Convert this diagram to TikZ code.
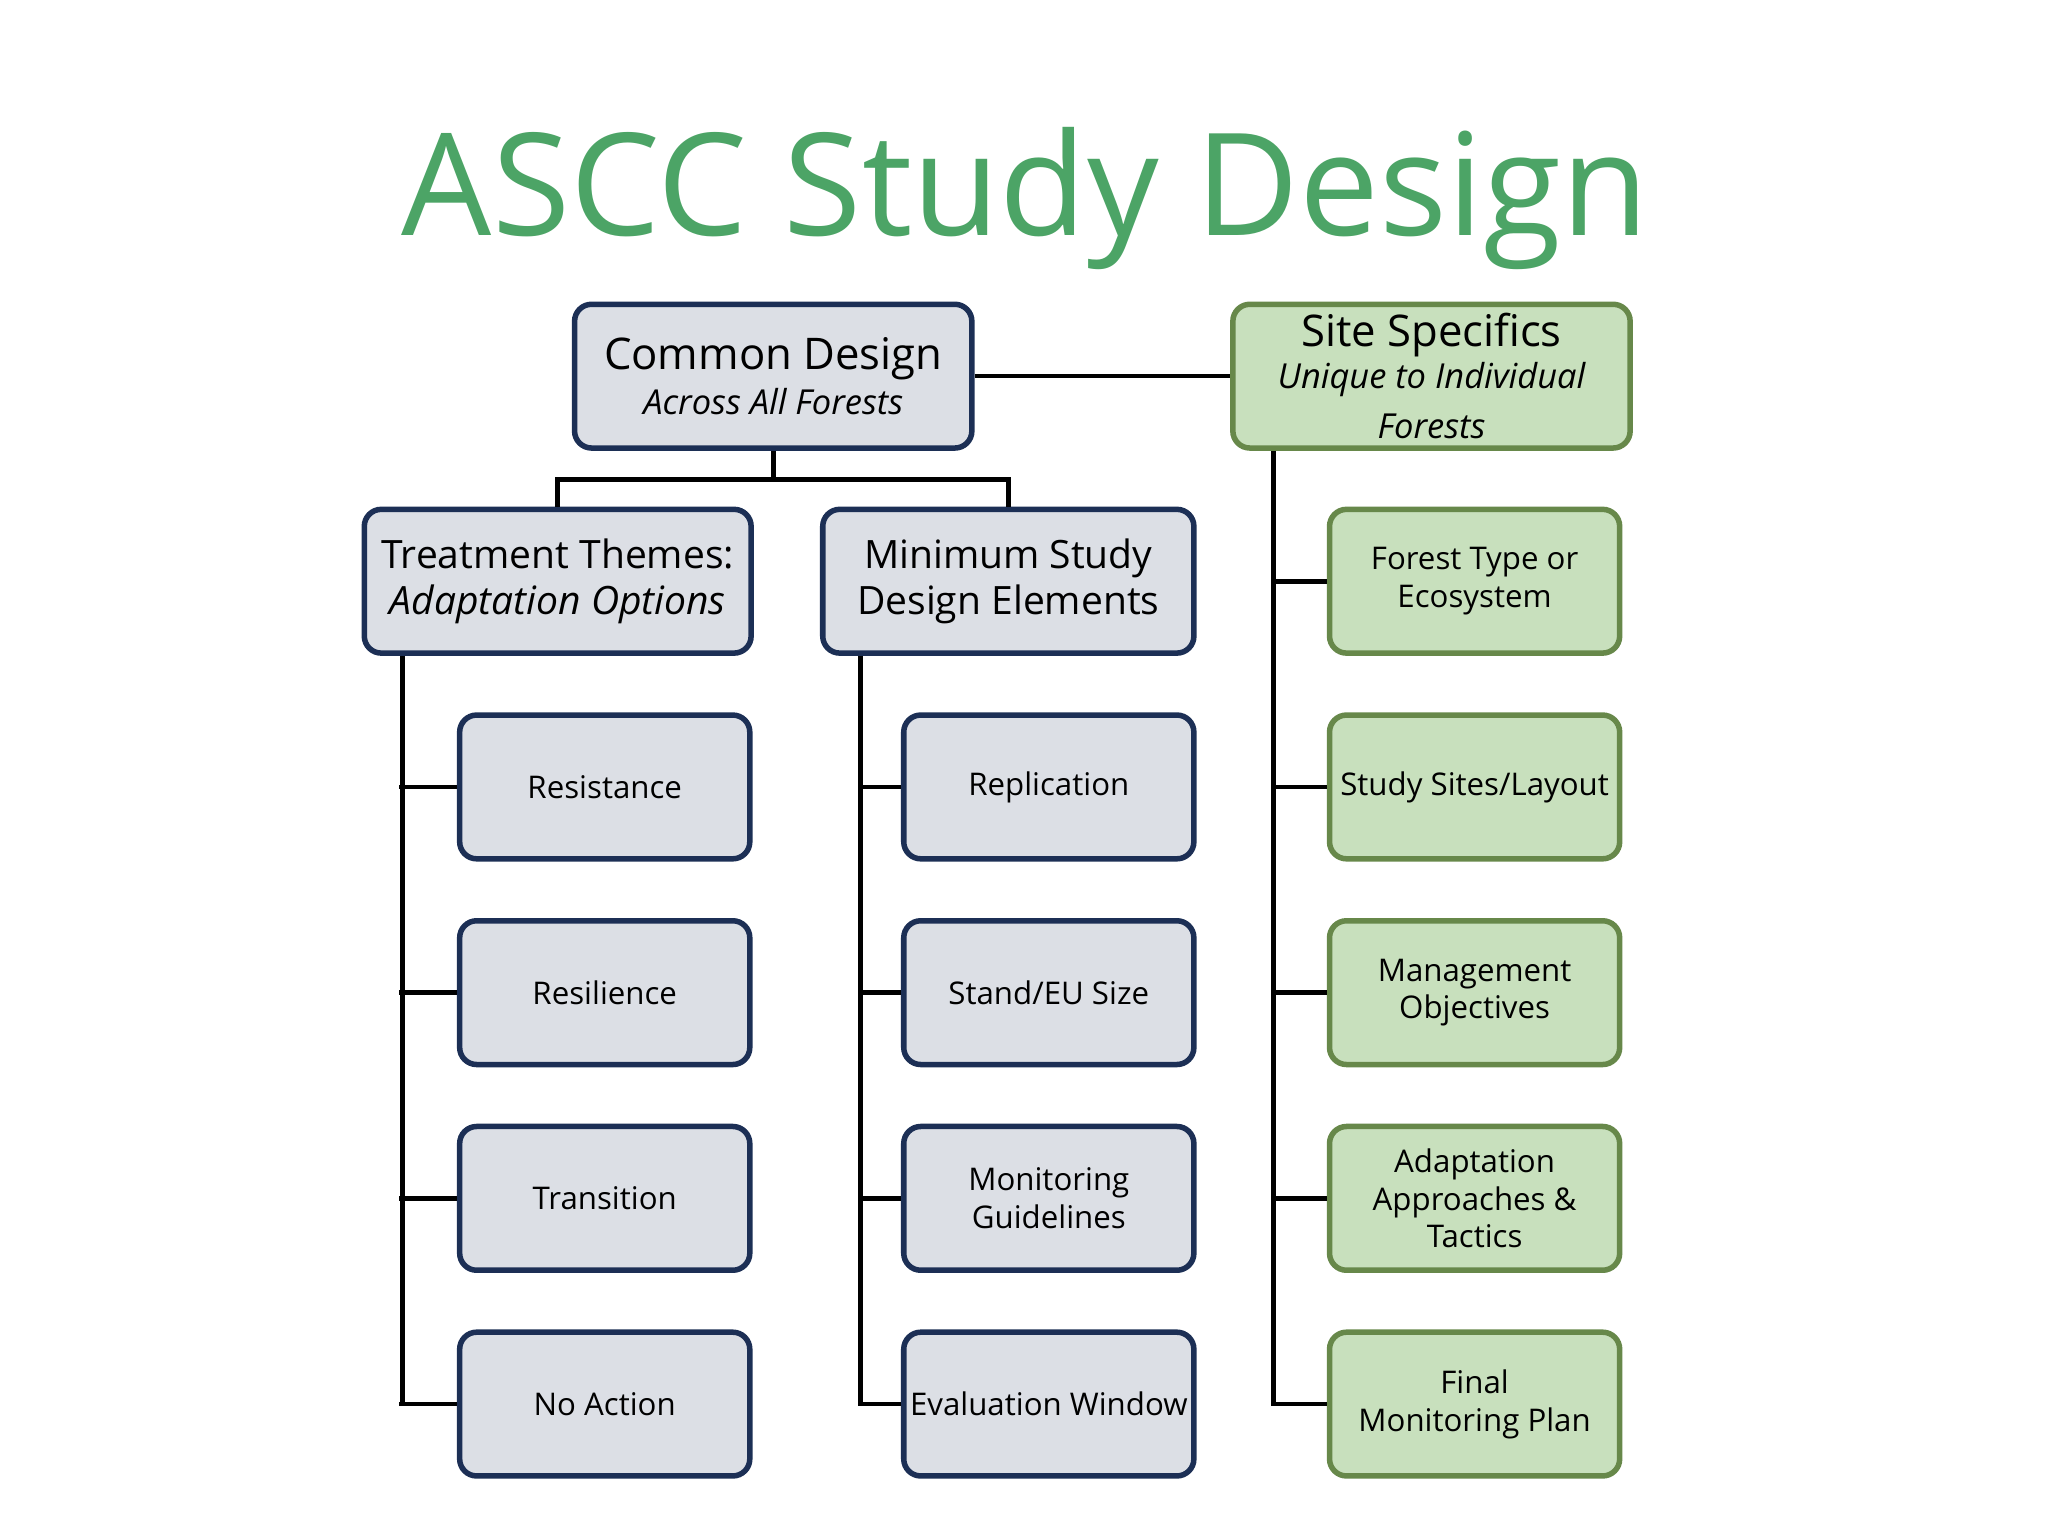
\documentclass[tikz,border=0pt]{standalone}
\usepackage{fontspec}
\setmainfont{Open Sans}
\usepackage{tikz}
\definecolor{navy}{HTML}{1C2F55}
\definecolor{greyfill}{HTML}{DCDFE5}
\definecolor{leafgreen}{HTML}{C8E0BD}
\definecolor{olive}{HTML}{67884A}
\definecolor{titlegreen}{HTML}{4CA466}
\tikzset{
  gbox/.style={draw=navy,fill=greyfill,line width=1.2pt,rounded corners=0.13cm,align=center,inner sep=1pt},
  sbox/.style={draw=olive,fill=leafgreen,line width=1.2pt,rounded corners=0.13cm,align=center,inner sep=1pt},
  link/.style={line width=1pt}
}
\begin{document}
\begin{tikzpicture}[x=0.01cm,y=-0.01cm]
\useasboundingbox (0,0) rectangle (1568,1176);
% Title
\node[text=titlegreen,font=\fontsize{31}{36}\selectfont] (title) at (785,152) {ASCC Study Design};

% Top level
\node[gbox,minimum width=3.04cm,minimum height=1.1cm,font=\fontsize{9.5}{11}\selectfont] (common) at (592,288)
  {Common Design\\[-1pt]\fontsize{7.5}{9}\selectfont\itshape Across All Forests};
\node[sbox,minimum width=3.04cm,minimum height=1.1cm,font=\fontsize{9.5}{11}\selectfont] (site) at (1096,288)
  {Site Specifics\\[-2pt]\fontsize{7.5}{9.2}\selectfont\itshape Unique to Individual\\\fontsize{7.5}{9.2}\selectfont\itshape Forests};
\node[gbox,minimum width=2.96cm,minimum height=1.1cm,font=\fontsize{8.5}{10}\selectfont] (themes) at (427,445)
  {Treatment Themes:\\\itshape Adaptation Options};
\node[gbox,minimum width=2.84cm,minimum height=1.1cm,font=\fontsize{8.5}{10}\selectfont] (minimum) at (772,445)
  {Minimum Study\\Design Elements};
\draw[link] (common) -- (site);
\coordinate (split) at (592,367);
\draw[link] (common.south) -- (split);
\draw[link] (split) -| (themes.north);
\draw[link] (split) -| (minimum.north);

% Treatment themes
\foreach \name/\txt [count=\i] in {res/Resistance,resil/Resilience,trans/Transition,noact/No Action} {
    \node[gbox,minimum width=2.22cm,minimum height=1.1cm,font=\fontsize{6.8}{8.2}\selectfont] (\name) at (463,445+157.5*\i) {\txt};
    \draw[link] (\name.west) -- ++(-44,0);
}
\draw[link] (themes.south -| 308,0) -- (308,1075) -- (noact.west);

% Study design elements
\foreach \name/\txt [count=\i] in {repl/Replication,stand/{Stand/EU Size},monit/{Monitoring\\Guidelines},evalw/Evaluation Window} {
    \node[gbox,minimum width=2.22cm,minimum height=1.1cm,font=\fontsize{6.8}{8.2}\selectfont] (\name) at (803,445+157.5*\i) {\txt};
    \draw[link] (\name.west) -- ++(-33,0);
}
\draw[link] (minimum.south -| 659,0) -- (659,1075) -- (evalw.west);

% Site specifics
\foreach \name/\txt [count=\i from 0] in {ftype/{Forest Type or\\Ecosystem},sites/{Study Sites/Layout},mgmt/{Management\\Objectives},adapt/{Adaptation\\Approaches \&\\Tactics},final/{Final\\Monitoring Plan}} {
    \node[sbox,minimum width=2.22cm,minimum height=1.1cm,font=\fontsize{6.8}{8.2}\selectfont] (\name) at (1129,445+157.5*\i) {\txt};
    \draw[link] (\name.west) -- ++(-43,0);
}
\draw[link] (site.south -| 975,0) -- (975,1075) -- (final.west);
\end{tikzpicture}
\end{document}
